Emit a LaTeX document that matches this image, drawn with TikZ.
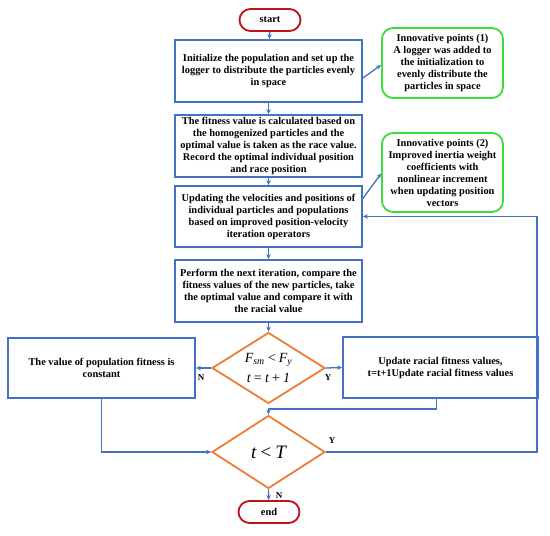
\documentclass[tikz,border=0pt]{standalone}
\usepackage{fontspec}
\setmainfont{Liberation Serif}
\usetikzlibrary{shapes.geometric,arrows.meta}
\definecolor{bblue}{RGB}{68,114,196}
\definecolor{borange}{RGB}{237,125,49}
\definecolor{bgreen}{RGB}{60,220,60}
\definecolor{bred}{RGB}{192,16,24}
\tikzset{
  proc/.style={draw=bblue, line width=1.8pt, rectangle, minimum width=187pt, minimum height=62pt, align=center, inner sep=1pt, font=\bfseries\fontsize{10.4}{12}\selectfont},
  note/.style={draw=bgreen, line width=1.8pt, rectangle, rounded corners=11pt, minimum width=121pt, align=center, inner sep=1pt, font=\bfseries\fontsize{10.4}{12}\selectfont},
  term/.style={draw=bred, line width=1.8pt, rectangle, rounded corners=11pt, minimum width=61pt, minimum height=22pt, inner sep=0pt, font=\bfseries\fontsize{10.4}{12}\selectfont},
  dec/.style={draw=borange, line width=1.8pt, diamond, minimum width=113pt, minimum height=71pt, inner sep=0pt, align=center},
  arr/.style={draw=bblue, line width=1.3pt, -{Stealth[length=5pt,width=4.5pt]}},
  lbl/.style={font=\bfseries\fontsize{9}{10}\selectfont, inner sep=0pt}
}
\begin{document}
\begin{tikzpicture}[x=1pt,y=-1pt]
\useasboundingbox (0,0) rectangle (550,536);
\node[term] (start) at (270,20) {start};
\node[proc] (b1) at (268.5,71) {Initialize the population and set up the\\logger to distribute the particles evenly\\in space};
\node[note, minimum height=70pt] (g1) at (442.5,63) {Innovative points (1)\\A logger was added to\\the initialization to\\evenly distribute the\\particles in space};
\node[proc] (b2) at (268.5,146) {The fitness value is calculated based on\\the homogenized particles and the\\optimal value is taken as the race value.\\Record the optimal individual position\\and race position};
\node[proc, minimum height=61pt] (b3) at (268.5,216.5) {Updating the velocities and positions of\\individual particles and populations\\based on improved position-velocity\\iteration operators};
\node[note, minimum height=79pt] (g2) at (442.5,172.5) {Innovative points (2)\\Improved inertia weight\\coefficients with\\nonlinear increment\\when updating position\\vectors};
\node[proc] (b4) at (268.5,291) {Perform the next iteration, compare the\\fitness values of the new particles, take\\the optimal value and compare it with\\the racial value};
\node[dec, inner sep=-10pt, font=\fontsize{14}{20}\selectfont\itshape] (d1) at (268.5,368) {F\textsubscript{sm}\,<\,F\textsubscript{y}\\t\,=\,t\,+\,1};
\node[proc, minimum height=60pt] (lb) at (101.5,368) {The value of population fitness is\\constant};
\node[proc, minimum width=195pt, minimum height=61pt] (rb) at (440.5,367.5) {Update racial fitness values,\\t=t+1Update racial fitness values};
\node[dec, minimum height=73pt, font=\fontsize{19}{22}\selectfont\itshape] (d2) at (268.5,452) {t\,<\,T};
\node[term] (end) at (269,512) {end};
\coordinate (fb) at (537,452);
\coordinate (lc) at (101.5,452);
\draw[arr] (start) -- (b1);
\draw[arr] (b1) -- (b2);
\draw[arr] (b2) -- (b3);
\draw[arr] (b3) -- (b4);
\draw[arr] (b4) -- (d1);
\draw[arr] ([yshift=-7pt]b1.east) -- ([yshift=-2pt]g1.west);
\draw[arr] ([yshift=18pt]b3.east) -- ([yshift=-1pt]g2.west);
\draw[arr] (d1.west) -- (lb.east);
\draw[arr] (d1.east) -- (rb.west);
\draw[arr] (lb.south) -- (lc) -- (d2.west);
\draw[arr] ([xshift=-4pt]rb.south) -- ++(0,10) -| (d2.north);
\draw[arr] (d2.east) -- (fb) |- (b3.east);
\draw[arr] (d2.south) -- (end);
\node[lbl] (nl) at (201,378) {N};
\node[lbl] (yl) at (328,378) {Y};
\node[lbl] (y2) at (332,441) {Y};
\node[lbl] (n2) at (279,496) {N};
\end{tikzpicture}
\end{document}
